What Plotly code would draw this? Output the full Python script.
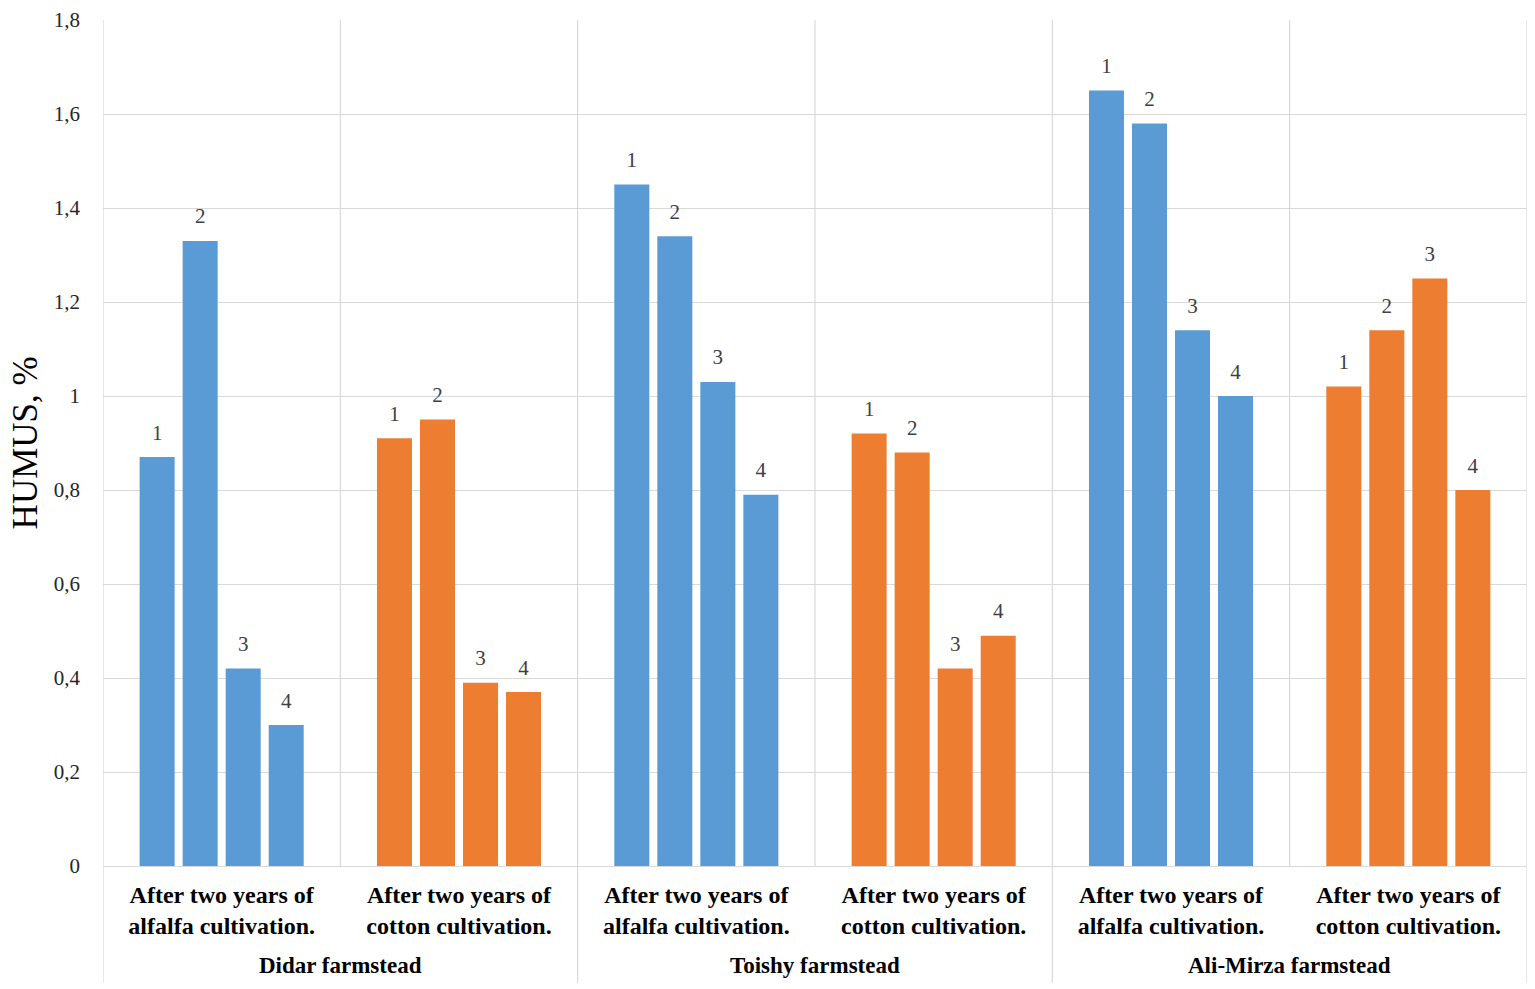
import plotly.graph_objects as go

# ---- data ----
farmsteads = ["Didar farmstead", "Toishy farmstead", "Ali-Mirza farmstead"]
group_labels = ["After two years of<br>alfalfa cultivation.",
                "After two years of<br>cotton cultivation."]
bar_numbers = ["1", "2", "3", "4"]

didar_alfalfa = [0.87, 1.33, 0.42, 0.30]
didar_cotton = [0.91, 0.95, 0.39, 0.37]
toishy_alfalfa = [1.45, 1.34, 1.03, 0.79]
toishy_cotton = [0.92, 0.88, 0.42, 0.49]
alimirza_alfalfa = [1.65, 1.58, 1.14, 1.00]
alimirza_cotton = [1.02, 1.14, 1.25, 0.80]

y_tick_vals = [0, 0.2, 0.4, 0.6, 0.8, 1.0, 1.2, 1.4, 1.6, 1.8]
y_tick_text = ["0", "0,2", "0,4", "0,6", "0,8", "1", "1,2", "1,4", "1,6", "1,8"]

groups = [didar_alfalfa, didar_cotton, toishy_alfalfa, toishy_cotton,
          alimirza_alfalfa, alimirza_cotton]

BLUE = "#5B9BD5"
ORANGE = "#ED7D31"
GRID = "#d9d9d9"
SERIF = "Liberation Serif, Times New Roman, serif"

cat_keys = []
cat_text = []
cat_colors = []
for fi, farm in enumerate(farmsteads):
    for gi, gl in enumerate(group_labels):
        cat_keys.append(f"{farm}|{gi}")
        cat_text.append(f"<b>{gl}</b>")
        cat_colors.append(BLUE if gi == 0 else ORANGE)

BARGAP = 0.275
fig = go.Figure()

for j, num in enumerate(bar_numbers):
    yvals = [g[j] for g in groups]
    fig.add_trace(go.Bar(
        x=cat_keys, y=yvals, name=num,
        marker=dict(color=cat_colors, line=dict(width=0)),
        showlegend=False, hoverinfo="y",
    ))

for j, num in enumerate(bar_numbers):
    yvals = [g[j] for g in groups]
    fig.add_trace(go.Scatter(
        x=cat_keys, y=yvals, mode="markers+text",
        text=[num] * len(cat_keys), textposition="top center",
        marker=dict(size=18, opacity=0),
        textfont=dict(family=SERIF, size=21, color="#404040"),
        showlegend=False, hoverinfo="skip",
    ))

shapes = []
n = len(cat_keys)
for k in range(n + 1):
    xpos = k - 0.5
    is_farm_edge = (k % 2 == 0)
    shapes.append(dict(
        type="line", xref="x", yref="paper",
        x0=xpos, x1=xpos,
        y0=-0.138 if is_farm_edge else 0, y1=1,
        line=dict(color=GRID, width=1.2), layer="below",
    ))

annotations = []
for fi, farm in enumerate(farmsteads):
    annotations.append(dict(
        text=f"<b>{farm}</b>", xref="x", yref="paper",
        x=2 * fi + 0.5, y=-0.118, xanchor="center", yanchor="middle",
        showarrow=False, font=dict(family=SERIF, size=23, color="#000000"),
    ))
annotations.append(dict(
    text="HUMUS, %", xref="paper", yref="paper",
    x=-0.0545, y=0.5, xanchor="center", yanchor="middle", textangle=-90,
    showarrow=False, font=dict(family=SERIF, size=35, color="#000000"),
))

fig.update_layout(
    width=1535, height=989,
    margin=dict(l=103, r=8, t=20, b=123),
    paper_bgcolor="white", plot_bgcolor="white",
    barmode="group", bargap=BARGAP, bargroupgap=0.186,
    scattermode="group", scattergap=BARGAP,
    shapes=shapes, annotations=annotations,
    xaxis=dict(
        type="category", categoryorder="array", categoryarray=cat_keys,
        tickmode="array", tickvals=cat_keys, ticktext=cat_text,
        tickfont=dict(family=SERIF, size=24, color="#000000"),
        showgrid=False, showline=True, linecolor=GRID, linewidth=1.2,
        ticks="", ticklabelstandoff=7, range=[-0.5, n - 0.5],
        automargin=False,
    ),
    yaxis=dict(
        range=[0, 1.8], tickmode="array", tickvals=y_tick_vals, ticktext=y_tick_text,
        tickfont=dict(family=SERIF, size=21, color="#262626"),
        showgrid=True, gridcolor=GRID, gridwidth=1.2, zeroline=False,
        showline=False, ticks="", ticklabelstandoff=22, automargin=False,
    ),
)

# remove the default 8px page margin so the figure fills the window exactly
fig.write_html("out.html",
               config={"displayModeBar": False},
               post_script="document.body.style.margin='0px';"
                           "document.body.style.overflow='hidden';")
